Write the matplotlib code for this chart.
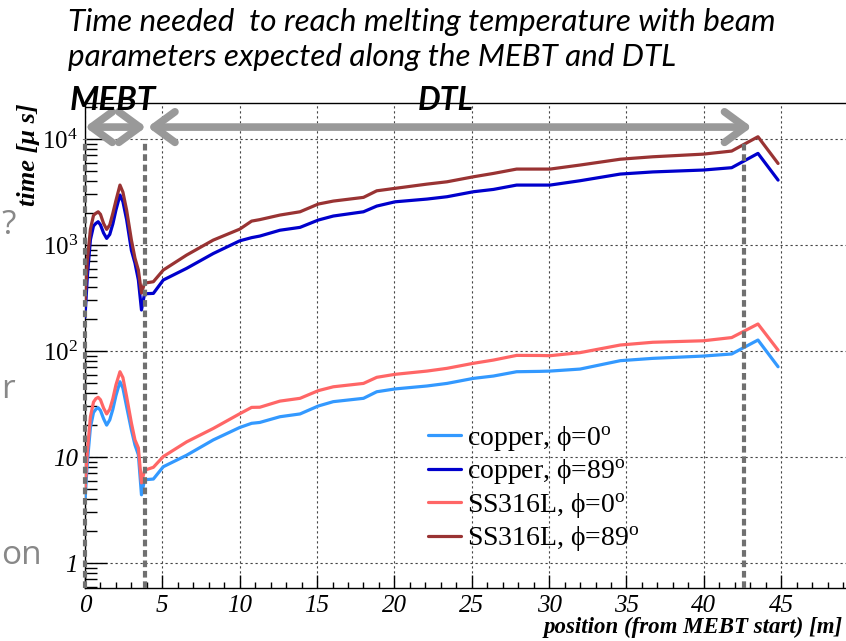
import matplotlib
matplotlib.use('Agg')
import matplotlib.pyplot as plt
from matplotlib.ticker import FixedLocator, MultipleLocator, LogLocator, NullFormatter

plt.rcParams['mathtext.fontset'] = 'custom'
plt.rcParams['mathtext.rm'] = 'Liberation Serif'
plt.rcParams['mathtext.it'] = 'Liberation Serif:italic'
plt.rcParams['mathtext.bf'] = 'Liberation Serif:bold'

# ---------------- data ----------------
position = [0.0, 0.15, 0.35, 0.55, 0.7, 0.85, 1.0, 1.2, 1.4, 1.6, 1.8, 2.0, 2.26, 2.45,
            2.69, 3.0, 3.23, 3.45, 3.65, 3.85, 4.42, 5.06, 6.57, 8.29, 10.0, 10.77, 11.3,
            12.6, 13.9, 15.08, 16.05, 18.0, 18.86, 20.04, 22.1, 23.4, 25.1, 26.4, 27.9,
            29.4, 30.06, 32.0, 34.6, 36.7, 39.97, 41.8, 43.5, 44.8]

copper_phi0 = [3.9, 8.9, 19.0, 26.3, 28.2, 29.2, 27.5, 23.0, 20.0, 22.4, 28.2, 38.0, 51.3, 44.7,
               29.9, 18.0, 13.0, 10.5, 4.4, 6.1, 6.2, 8.1, 10.4, 14.5, 19.0, 20.8, 21.2,
               24.0, 25.5, 30.3, 33.3, 35.8, 41.3, 43.9, 46.8, 49.5, 55.2, 58.1, 63.8,
               64.3, 64.7, 67.6, 81.1, 85.3, 89.7, 93.8, 127.0, 71.1]

copper_phi89 = [209, 501, 1122, 1514, 1600, 1660, 1550, 1300, 1156, 1260, 1585, 2140, 2965, 2570,
                1738, 891, 676, 468, 244, 347, 350, 468, 603, 832, 1096, 1175, 1216,
                1380, 1469, 1722, 1879, 2061, 2333, 2559, 2716, 2858, 3184, 3350, 3681,
                3681, 3681, 4046, 4677, 4898, 5105, 5370, 7328, 4102]

ss316l_phi0 = [4.9, 11.2, 24.0, 33.0, 35.5, 36.6, 34.7, 29.0, 25.5, 28.2, 35.5, 47.9, 63.8, 56.2,
               37.2, 20.9, 14.5, 12.2, 5.7, 7.5, 8.0, 10.1, 13.9, 18.6, 25.6, 29.4, 29.5,
               33.7, 35.8, 42.3, 46.0, 49.5, 56.5, 60.3, 64.7, 68.7, 76.6, 82.2, 91.0,
               90.8, 90.4, 96.6, 114, 121, 125, 134, 180, 102]

ss316l_phi89 = [302, 708, 1413, 1905, 1995, 2061, 1950, 1600, 1406, 1550, 1995, 2630, 3681, 3160,
                2138, 1114, 753, 581, 352, 437, 451, 581, 805, 1114, 1413, 1683, 1738,
                1919, 2061, 2438, 2600, 2818, 3251, 3428, 3758, 3954, 4406, 4742, 5212,
                5212, 5212, 5689, 6457, 6808, 7211, 7709, 10520, 5888]

series_labels = [r'copper, ϕ=0$^{\mathrm{o}}$', r'copper, ϕ=89$^{\mathrm{o}}$',
                 r'SS316L, ϕ=0$^{\mathrm{o}}$', r'SS316L, ϕ=89$^{\mathrm{o}}$']
series_colors = ['#3399ff', '#0000cc', '#ff6666', '#993333']

section_names = ['MEBT', 'DTL']
section_bounds = [0.0, 3.85, 42.6]

xtick_values = [0, 5, 10, 15, 20, 25, 30, 35, 40, 45]
xtick_labels = ['0', '5', '10', '15', '20', '25', '30', '35', '40', '45']
ytick_values = [1, 10, 100, 1000, 10000]
ytick_labels = ['1', '10', r'$10^{2}$', r'$10^{3}$', r'$10^{4}$']

title_lines = ['Time needed  to reach melting temperature with beam',
               'parameters expected along the MEBT and DTL']

# ---------------- figure ----------------
W, H = 846, 641
fig = plt.figure(figsize=(W / 100, H / 100), dpi=100)
ax_l, ax_r, ax_t, ax_b = 85, 846, 103, 588
ax = fig.add_axes([ax_l / W, 1 - ax_b / H, (ax_r - ax_l) / W, (ax_b - ax_t) / H])
ax.set_yscale('log')
ax.set_xlim(0, 49.19)
ax.set_ylim(0.581, 21900)

serif = 'Liberation Serif'

series = [copper_phi0, copper_phi89, ss316l_phi0, ss316l_phi89]
for vals, lab, col in zip(series, series_labels, series_colors):
    ax.plot(position, vals, color=col, lw=2.3, label=lab, solid_joinstyle='round',
            solid_capstyle='round', zorder=3)

# grid
ax.grid(True, which='major', color='#444444', lw=0.8, linestyle=(0, (2, 2.5)))

# ticks
ax.xaxis.set_major_locator(FixedLocator(xtick_values))
ax.xaxis.set_minor_locator(MultipleLocator(1))
ax.set_xticklabels(xtick_labels, fontfamily=serif, style='italic', fontsize=18)
ax.yaxis.set_major_locator(FixedLocator(ytick_values))
ax.yaxis.set_minor_locator(LogLocator(base=10, subs=range(2, 10), numticks=20))
ax.yaxis.set_minor_formatter(NullFormatter())
ax.set_yticklabels(ytick_labels, fontfamily=serif, style='italic', fontsize=18)
ax.tick_params(axis='both', which='both', direction='in', top=False, right=False, width=1)
ax.tick_params(axis='y', which='major', length=16, pad=5)
ax.tick_params(axis='y', which='minor', length=8.5)
ax.tick_params(axis='x', which='major', length=9.5, pad=5)
ax.tick_params(axis='x', which='minor', length=4)
ax.spines['right'].set_visible(False)
for s in ['left', 'bottom', 'top']:
    ax.spines[s].set_linewidth(1.0)

# labels
ax.set_ylabel('time [μ s]', loc='top', fontfamily=serif, style='italic',
              fontweight='bold', fontsize=19)
ax.yaxis.set_label_coords((40 - ax_l) / (ax_r - ax_l), 1.0)
ax.set_xlabel('position (from MEBT start) [m]', loc='right', fontfamily=serif,
              style='italic', fontweight='bold', fontsize=16.5)
ax.xaxis.set_label_coords((843 - ax_l) / (ax_r - ax_l), (ax_b - 617) / (ax_b - ax_t))

# section boundaries (dashed)
for xb in section_bounds:
    ax.plot([xb, xb], [0.581, 1e4], color='#707070', lw=3,
            linestyle=(0, (1.6, 0.9)), zorder=4, clip_on=False)

# arrows
y_arrow = 10 ** ((563 - 127) / 106.0)
arrow_style = '<->,head_length=0.75,head_width=0.55'
for (xa, xb_) in [(0.0, 3.95), (4.05, 43.1)]:
    ax.annotate('', xy=(xb_, y_arrow), xytext=(xa, y_arrow),
                arrowprops=dict(arrowstyle=arrow_style, lw=5.5, color='#999999',
                                mutation_scale=20, shrinkA=0, shrinkB=0),
                annotation_clip=False, zorder=5)

# section names
fig.text(70 / W, 1 - 110 / H, section_names[0], fontfamily='Lato', fontweight='bold',
         style='italic', fontsize=24, va='baseline', ha='left')
fig.text(418 / W, 1 - 110 / H, section_names[1], fontfamily='Lato', fontweight='bold',
         style='italic', fontsize=23, va='baseline', ha='left')

# title
fig.text(68 / W, 1 - 31 / H, title_lines[0], fontfamily='Lato', style='italic',
         fontsize=22.6, va='baseline', ha='left')
fig.text(68 / W, 1 - 66 / H, title_lines[1], fontfamily='Lato', style='italic',
         fontsize=22.6, va='baseline', ha='left')

# fragments of slide text at the left edge
for txt, yp in [('?', 225), ('r', 390), ('on', 555)]:
    fig.text(1 / W, 1 - yp / H, txt, fontfamily='Open Sans', color='#888888',
             fontsize=24, va='center', ha='left')

# legend
leg = ax.legend(loc='upper left',
                bbox_to_anchor=((428 - ax_l) / (ax_r - ax_l), (ax_b - 424) / (ax_b - ax_t)),
                frameon=False, borderpad=0, borderaxespad=0, handlelength=1.2,
                handletextpad=0.22, labelspacing=0.16,
                prop={'family': [serif, 'DejaVu Serif'], 'size': 20})

fig.savefig('out.png', dpi=100)
